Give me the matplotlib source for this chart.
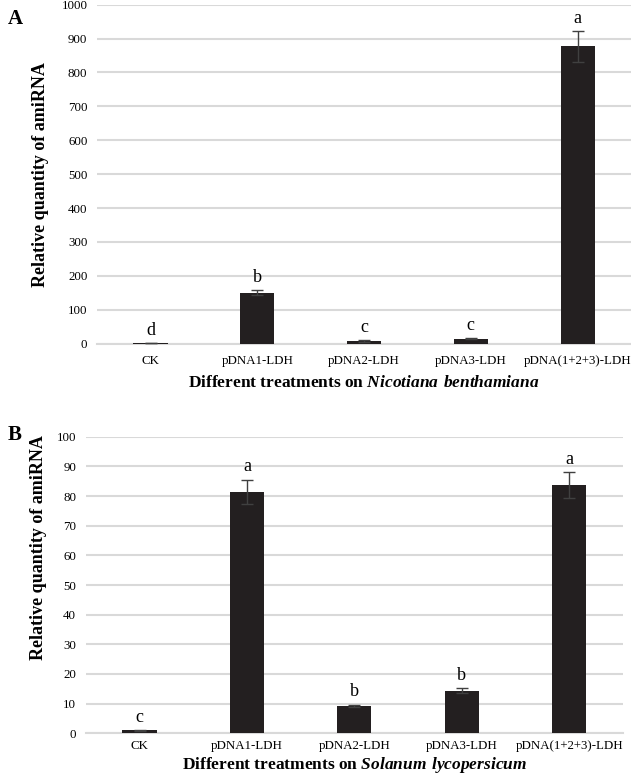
import matplotlib.pyplot as plt
import numpy as np

plt.rcParams['font.family'] = ['Liberation Serif', 'DejaVu Serif']
plt.rcParams['mathtext.fontset'] = 'custom'
plt.rcParams['mathtext.rm'] = 'Liberation Serif'
plt.rcParams['mathtext.bfit'] = 'Liberation Serif:italic:bold'

treatments = ['CK', 'pDNA1-LDH', 'pDNA2-LDH', 'pDNA3-LDH', 'pDNA(1+2+3)-LDH']

# panel A - Nicotiana benthamiana
vals_a = [1, 150, 8, 15, 877]
err_a = [0.5, 7, 2, 2, 45]
letters_a = ['d', 'b', 'c', 'c', 'a']

# panel B - Solanum lycopersicum
vals_b = [1.0, 81.5, 9.2, 14.4, 83.7]
err_b = [0.2, 4.1, 0.5, 0.8, 4.3]
letters_b = ['c', 'a', 'b', 'b', 'a']

grid_col = '#d9d9d9'


def draw_panel(ax, vals, errs, letters, ymax, step, species):
    x = np.arange(len(treatments))
    ax.bar(x, vals, width=0.32, color='#231f20', zorder=3)
    ax.errorbar(x, vals, yerr=errs, fmt='none', ecolor='#404040',
                elinewidth=1, capsize=4, capthick=1, zorder=4)
    for xi, v, e, l in zip(x, vals, errs, letters):
        ax.annotate(l, (xi, v + e), xytext=(0, 3), textcoords='offset points',
                    ha='center', va='bottom', fontsize=13)
    ax.set_xlim(-0.5, len(treatments) - 0.5)
    ax.set_ylim(0, ymax)
    ax.set_yticks(np.arange(0, ymax + 1, step))
    ax.yaxis.grid(True, color=grid_col, linewidth=1.5, zorder=0)
    ax.set_axisbelow(True)
    for s in ['top', 'right', 'left']:
        ax.spines[s].set_visible(False)
    ax.spines['bottom'].set_color(grid_col)
    ax.spines['bottom'].set_linewidth(1.5)
    ax.tick_params(length=0, labelsize=9.3)
    ax.tick_params(axis='y', pad=7)
    ax.set_xticks(x)
    ax.set_xticklabels(treatments)
    ax.set_ylabel('Relative quantity of amiRNA', fontsize=13, fontweight='bold')
    ax.set_xlabel('Different treatments on $\\mathbfit{' + species.replace(' ', '\\ ') + '}$',
                  fontsize=12.5, fontweight='bold', labelpad=6)


fig = plt.figure(figsize=(6.31, 7.74), dpi=100)

ax1 = fig.add_axes([0.154, 0.556, 0.846, 0.438])
draw_panel(ax1, vals_a, err_a, letters_a, 1000, 100, 'Nicotiana benthamiana')
ax1.tick_params(axis='x', pad=8)
ax1.yaxis.set_label_coords(-0.09, 0.5)

ax2 = fig.add_axes([0.136, 0.0526, 0.851, 0.383])
draw_panel(ax2, vals_b, err_b, letters_b, 100, 10, 'Solanum lycopersicum')
ax2.tick_params(axis='x', pad=5)
ax2.xaxis.labelpad = 2
ax2.yaxis.set_label_coords(-0.073, 0.625)

fig.text(0.012, 0.976, 'A', fontsize=15, fontweight='bold', va='center')
fig.text(0.012, 0.438, 'B', fontsize=15, fontweight='bold', va='center')

fig.savefig('out.png', dpi=100)
